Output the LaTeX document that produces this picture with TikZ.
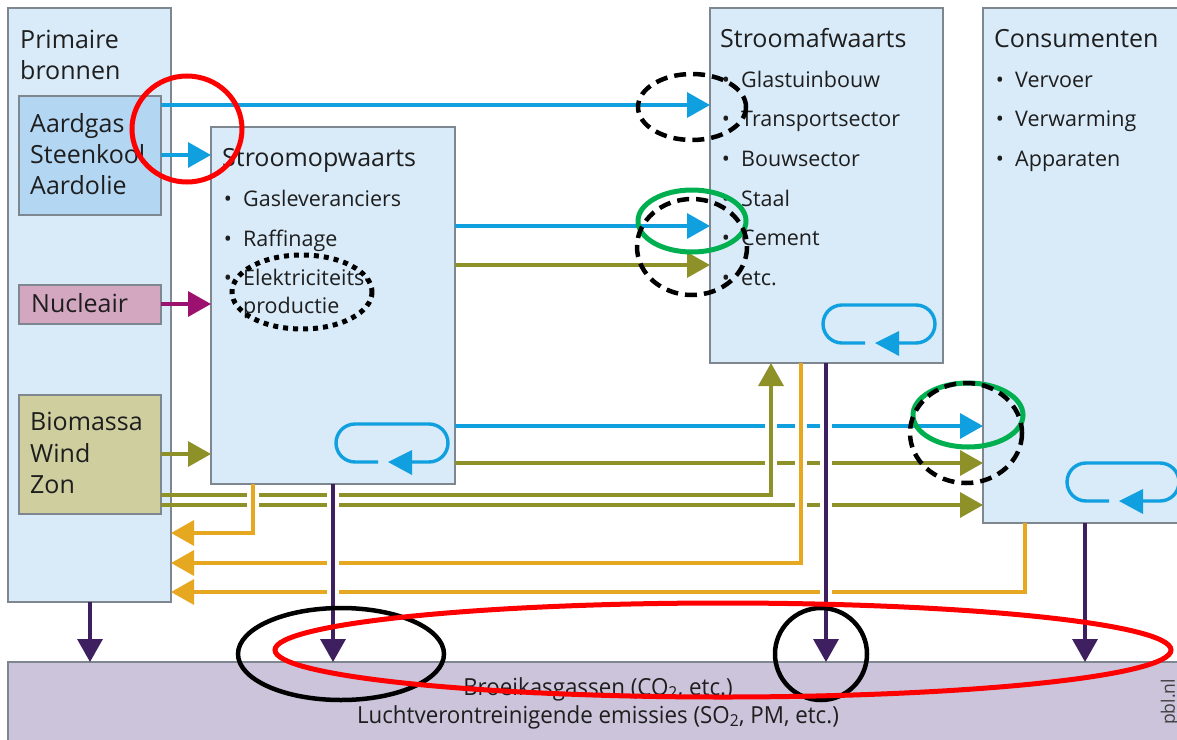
\documentclass[tikz,border=0pt]{standalone}
\usepackage{fontspec}
\setmainfont{Open Sans}
\newfontfamily\condfont{Open Sans}[FakeStretch=0.95]
\usetikzlibrary{arrows.meta}
\definecolor{boxfill}{HTML}{D9EBF9}
\definecolor{boxline}{HTML}{7E8790}
\definecolor{fossil}{HTML}{B3D6F3}
\definecolor{nucfill}{HTML}{D4A7C1}
\definecolor{biofill}{HTML}{CECE9F}
\definecolor{bandfill}{HTML}{CBC4DA}
\definecolor{cblue}{HTML}{109FDF}
\definecolor{colive}{HTML}{8D9128}
\definecolor{cyellow}{HTML}{E6A821}
\definecolor{cpurple}{HTML}{3E1F5F}
\definecolor{cmagenta}{HTML}{9C1070}
\definecolor{txt}{HTML}{1E1E1E}
\definecolor{annred}{HTML}{FF0000}
\definecolor{anngreen}{HTML}{00B050}
\newcommand\mkgap[3]{%
  \draw[white, line width=12pt] (#1,#2-6) -- (#1,#2+6);
  \draw[#3, line width=3.4pt] (#1,#2-7) -- (#1,#2+7);}
\tikzset{
  loopicon/.pic={
    \draw[cblue, line width=3.4pt] (42,38) -- (19,38)
      arc[start angle=90, end angle=270, radius=19] -- (93,0)
      arc[start angle=-90, end angle=90, radius=19] -- (76,38);
    \fill[cblue] (76,26) -- (52,38) -- (76,51) -- cycle;
  }
}
\begin{document}
\begin{tikzpicture}[x=1pt,y=-1pt,
  box/.style={draw=boxline, line width=1.2pt, fill=boxfill, inner sep=0pt, outer sep=0pt, anchor=north west},
  ttl/.style={anchor=base west, inner sep=0pt, text=txt, font=\fontsize{25}{30}\selectfont},
  itm/.style={anchor=base west, inner sep=0pt, text=txt, font=\fontsize{21.5}{26}\selectfont},
  bul/.style={anchor=base, inner sep=0pt, text=txt, font=\fontsize{21.5}{26}\selectfont},
  flow/.style={line width=3.4pt},
  tip/.style={-{Triangle[length=23pt,width=25pt]}},
  ann/.style={line width=5pt},
  dashann/.style={line width=4.5pt, black, dash pattern=on 12pt off 7pt},
  dotann/.style={line width=5pt, black, dash pattern=on 5pt off 5pt}
]
\useasboundingbox (0,0) rectangle (1177,739);
\clip (0,0) rectangle (1177,739);
\fill[white] (0,0) rectangle (1177,739);

% boxes
\node[box, minimum width=163pt, minimum height=594pt] (prim) at (8,8) {};
\node[box, fill=fossil, minimum width=142pt, minimum height=119pt] (fos) at (19,96) {};
\node[box, fill=nucfill, minimum width=142pt, minimum height=39pt] (nuc) at (19,285) {};
\node[box, fill=biofill, minimum width=142pt, minimum height=119pt] (bio) at (19,395) {};
\node[box, minimum width=244pt, minimum height=357pt] (opw) at (211,127) {};
\node[box, minimum width=233pt, minimum height=355pt] (afw) at (710,8) {};
\node[box, minimum width=220pt, minimum height=515pt] (con) at (983,8) {};
\node[box, fill=bandfill, minimum width=1180pt, minimum height=90pt] (band) at (8,662) {};

% texts
\node[ttl] (t1) at (20,48) {Primaire};
\node[ttl] (t2) at (20,79) {bronnen};
\node[ttl] (t3) at (30,132) {Aardgas};
\node[ttl] (t4) at (30,163) {Steenkool};
\node[ttl] (t5) at (30,194) {Aardolie};
\node[ttl] (t6) at (31,312) {Nucleair};
\node[ttl] (t7) at (30,430) {Biomassa};
\node[ttl] (t8) at (30,462) {Wind};
\node[ttl] (t9) at (30,493) {Zon};
\node[ttl] (t10) at (222,166) {Stroomopwaarts};
\node[bul] (b1) at (228,206) {•};
\node[itm] (i1) at (243,206) {Gasleveranciers};
\node[bul] (b2) at (228,246) {•};
\node[itm] (i2) at (243,246) {Raffinage};
\node[bul] (b3) at (228,285) {•};
\node[itm] (i3) at (243,285) {Elektriciteits-};
\node[itm] (i3b) at (243,313) {productie};
\node[ttl] (t11) at (720,47) {Stroomafwaarts};
\node[bul] (b4) at (726,87) {•};
\node[itm] (i4) at (741,87) {Glastuinbouw};
\node[bul] (b5) at (726,126) {•};
\node[itm] (i5) at (741,126) {Transportsector};
\node[bul] (b6) at (726,166) {•};
\node[itm] (i6) at (741,166) {Bouwsector};
\node[bul] (b7) at (726,206) {•};
\node[itm] (i7) at (741,206) {Staal};
\node[bul] (b8) at (726,245) {•};
\node[itm] (i8) at (741,245) {Cement};
\node[bul] (b9) at (726,285) {•};
\node[itm] (i9) at (741,285) {etc.};
\node[ttl] (t12) at (994,47) {Consumenten};
\node[bul] (b10) at (1000,87) {•};
\node[itm] (i10) at (1015,87) {Vervoer};
\node[bul] (b11) at (1000,126) {•};
\node[itm] (i11) at (1015,126) {Verwarming};
\node[bul] (b12) at (1000,166) {•};
\node[itm] (i12) at (1015,166) {Apparaten};

\node[anchor=base, inner sep=0pt, text=txt, font=\condfont\fontsize{23.5}{27}\selectfont] (ghg) at (598,695) {Broeikasgassen (CO\textsubscript{2}, etc.)};
\node[anchor=base, inner sep=0pt, text=txt, font=\condfont\fontsize{23.5}{27}\selectfont] (air) at (598,723) {Luchtverontreinigende emissies (SO\textsubscript{2}, PM, etc.)};
\node[rotate=90, inner sep=0pt, text=txt!85, font=\condfont\fontsize{18.5}{20}\selectfont] (pbl) at (1170,702) {pbl.nl};

% loops
\pic (lp1) at (336,424) {loopicon};
\pic (lp2) at (823,305) {loopicon};
\pic (lp3) at (1067,463) {loopicon};

% level coordinates
\foreach \yy in {105,155,226,265,304,426,454,463,495,505,533,563,592}
  \coordinate (r\yy) at (0,\yy);
\foreach \xx in {90,253,333,771,801,826,1025,1085}
  \coordinate (c\xx) at (\xx,0);

% connectors
\draw[flow, cblue, tip] (fos.east |- r105) -- (afw.west |- r105);
\draw[flow, cblue, tip] (fos.east |- r155) -- (opw.west |- r155);
\draw[flow, cmagenta, tip] (nuc.east |- r304) -- (opw.west |- r304);
\draw[flow, colive, tip] (bio.east |- r454) -- (opw.west |- r454);
\draw[flow, cblue, tip] (opw.east |- r226) -- (afw.west |- r226);
\draw[flow, colive, tip] (opw.east |- r265) -- (afw.west |- r265);
\draw[flow, cblue, tip] (opw.east |- r426) -- (con.west |- r426);
\draw[flow, colive, tip] (opw.east |- r463) -- (con.west |- r463);
\draw[flow, colive, tip] (bio.east |- r495) -| (afw.south -| c771);
\draw[flow, colive, tip] (bio.east |- r505) -- (con.west |- r505);
\draw[flow, cyellow, tip] (opw.south -| c253) |- (prim.east |- r533);
\draw[flow, cyellow, tip] (afw.south -| c801) |- (prim.east |- r563);
\draw[flow, cyellow, tip] (con.south -| c1025) |- (prim.east |- r592);
\draw[flow, cpurple, tip] (prim.south -| c90) -- (band.north -| c90);
\draw[flow, cpurple, tip] (opw.south -| c333) -- (band.north -| c333);
\draw[flow, cpurple, tip] (afw.south -| c826) -- (band.north -| c826);
\draw[flow, cpurple, tip] (con.south -| c1085) -- (band.north -| c1085);

% crossings
\mkgap{253}{495}{cyellow}
\mkgap{253}{505}{cyellow}
\mkgap{333}{495}{cpurple}
\mkgap{333}{505}{cpurple}
\mkgap{333}{563}{cpurple}
\mkgap{333}{592}{cpurple}
\mkgap{771}{426}{colive}
\mkgap{771}{463}{colive}
\mkgap{801}{426}{cyellow}
\mkgap{801}{463}{cyellow}
\mkgap{801}{505}{cyellow}
\mkgap{826}{426}{cpurple}
\mkgap{826}{463}{cpurple}
\mkgap{826}{505}{cpurple}
\mkgap{826}{592}{cpurple}

% annotations
\draw[ann, annred] (187,129) ellipse [x radius=55, y radius=53];
\draw[dotann] (302,292) ellipse [x radius=70, y radius=37];
\draw[dashann] (692,107) ellipse [x radius=54, y radius=33];
\draw[ann, anngreen] (692,221) ellipse [x radius=54, y radius=31];
\draw[dashann] (692,247) ellipse [x radius=55, y radius=48];
\draw[ann, anngreen] (968,415) ellipse [x radius=55, y radius=32];
\draw[dashann] (966,433) ellipse [x radius=56, y radius=50];
\draw[line width=4.5pt, black] (341,654) ellipse [x radius=103, y radius=46];
\draw[line width=4.5pt, black] (821,654) ellipse [x radius=46, y radius=46];
\draw[ann, annred] (723,650) ellipse [x radius=448, y radius=47];
\end{tikzpicture}
\end{document}
